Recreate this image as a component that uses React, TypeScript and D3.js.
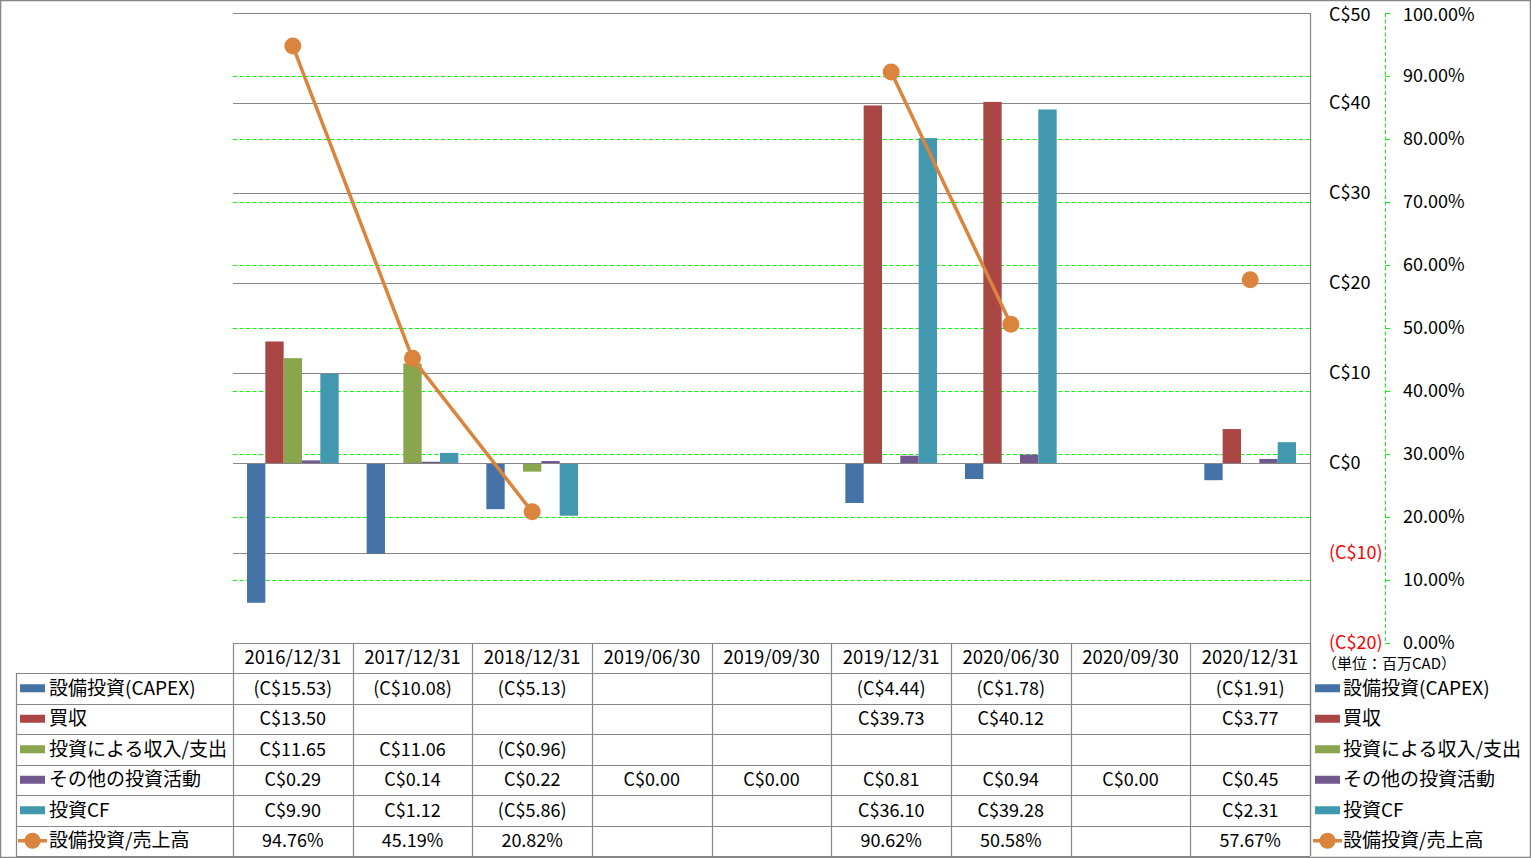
import React from 'react';
import * as d3 from 'd3';

const categories = ['2016/12/31', '2017/12/31', '2018/12/31', '2019/06/30', '2019/09/30', '2019/12/31', '2020/06/30', '2020/09/30', '2020/12/31'];
const capex: (number | null)[] = [-15.53, -10.08, -5.13, null, null, -4.44, -1.78, null, -1.91];
const acquisitions: (number | null)[] = [13.5, null, null, null, null, 39.73, 40.12, null, 3.77];
const investIncome: (number | null)[] = [11.65, 11.06, -0.96, null, null, null, null, null, null];
const otherInvest: (number | null)[] = [0.29, 0.14, 0.22, 0, 0, 0.81, 0.94, 0, 0.45];
const investCF: (number | null)[] = [9.9, 1.12, -5.86, null, null, 36.1, 39.28, null, 2.31];
const capexRatio: (number | null)[] = [94.76, 45.19, 20.82, null, null, 90.62, 50.58, null, 57.67];

const barSeriesNames = ['設備投資(CAPEX)', '買収', '投資による収入/支出', 'その他の投資活動', '投資CF'];
const lineSeriesName = '設備投資/売上高';
const barColors = ['#4572A7', '#AA4643', '#89A54E', '#71588F', '#4198AF'];
const lineColor = '#DB843D';
const leftTicks = [50, 40, 30, 20, 10, 0, -10, -20];
const rightTicks = [100, 90, 80, 70, 60, 50, 40, 30, 20, 10, 0];
const unitLabel = '（単位：百万CAD）';

const barSeries = [capex, acquisitions, investIncome, otherInvest, investCF];

const W = 1531;
const H = 858;
const plotL = 233;
const plotR = 1310;
const plotT = 13;
const plotB = 643;
const tableL = 16;
const headerB = 673;
const tableB = 856;
const FONT = '"Noto Sans CJK JP", "Noto Sans", sans-serif';
const GRID = '#868686';

const fmtC = (v: number | null) => (v == null ? '' : v < 0 ? `(C$${Math.abs(v).toFixed(2)})` : `C$${v.toFixed(2)}`);
const fmtP = (v: number | null) => (v == null ? '' : `${v.toFixed(2)}%`);
const fmtAxis = (v: number) => (v < 0 ? `(C$${Math.abs(v)})` : `C$${v}`);

export default function App() {
  const x0 = d3.scaleBand<string>().domain(categories).range([plotL, plotR]).paddingInner(0).paddingOuter(0);
  const bw = x0.bandwidth();
  const gap = bw * 0.234;
  const x1 = d3.scaleBand<number>().domain(barSeries.map((_, i) => i)).range([gap / 2, bw - gap / 2]).padding(0);
  const yL = d3.scaleLinear().domain([-20, 50]).range([plotB, plotT]);
  const yR = d3.scaleLinear().domain([0, 100]).range([plotB, plotT]);

  const rowH = (tableB - headerB) / 6;
  const rowY = (i: number) => headerB + i * rowH;

  const line = d3
    .line<number | null>()
    .defined((d) => d != null)
    .x((_, i) => (x0(categories[i]) as number) + bw / 2)
    .y((d) => yR(d as number));

  const rowsData: { name: string; values: string[]; color: string; isLine: boolean }[] = [
    ...barSeries.map((s, i) => ({ name: barSeriesNames[i], values: s.map(fmtC), color: barColors[i], isLine: false })),
    { name: lineSeriesName, values: capexRatio.map(fmtP), color: lineColor, isLine: true },
  ];

  const legendKey = (x: number, cy: number, color: string, isLine: boolean) =>
    isLine ? (
      <g>
        <line x1={x - 2} x2={x + 27} y1={cy} y2={cy} stroke={color} strokeWidth={3.5} />
        <circle cx={x + 12.5} cy={cy} r={8} fill={color} />
      </g>
    ) : (
      <rect x={x} y={cy - 4} width={25} height={8} fill={color} />
    );

  // keep the topmost axis labels fully inside the picture
  const labelY = (y: number) => Math.max(y, 15);

  return (
    <div style={{ position: 'fixed', left: 0, top: 0 }}>
      <svg width={W} height={H} style={{ display: 'block', fontFamily: FONT }}>
        <rect x={0} y={0} width={W} height={H} fill="#fff" />
        <rect x={0.5} y={0.5} width={W - 1} height={H - 1} fill="none" stroke={GRID} strokeWidth={1.5} />

        {/* green dashed secondary gridlines */}
        {rightTicks
          .filter((t) => t > 0 && t < 100)
          .map((t) => (
            <line key={'g' + t} x1={plotL} x2={plotR} y1={Math.round(yR(t)) + 0.5} y2={Math.round(yR(t)) + 0.5} stroke="#00FF00" strokeWidth={1} strokeDasharray="4,2.5" />
          ))}
        {/* solid primary gridlines */}
        {leftTicks.map((t) => (
          <line key={'s' + t} x1={plotL} x2={plotR} y1={Math.round(yL(t)) + 0.5} y2={Math.round(yL(t)) + 0.5} stroke={GRID} strokeWidth={1.2} />
        ))}

        {/* bars */}
        {barSeries.map((s, si) =>
          s.map((v, ci) => {
            if (v == null || v === 0) return null;
            const xx = (x0(categories[ci]) as number) + (x1(si) as number);
            const y0 = yL(0);
            const yv = yL(v);
            return <rect key={`b${si}-${ci}`} x={xx} y={Math.min(y0, yv)} width={x1.bandwidth()} height={Math.abs(yv - y0)} fill={barColors[si]} />;
          })
        )}
        {/* zero line on top */}
        <line x1={plotL} x2={plotR} y1={Math.round(yL(0)) + 0.5} y2={Math.round(yL(0)) + 0.5} stroke={GRID} strokeWidth={1.2} />

        {/* line series */}
        <path d={line(capexRatio) || ''} fill="none" stroke={lineColor} strokeWidth={3.5} />
        {capexRatio.map((v, i) =>
          v == null ? null : <circle key={'c' + i} cx={(x0(categories[i]) as number) + bw / 2} cy={yR(v)} r={8.5} fill={lineColor} />
        )}

        {/* right border of plot */}
        <line x1={plotR + 0.5} x2={plotR + 0.5} y1={plotT} y2={tableB} stroke={GRID} strokeWidth={1.2} />

        {/* left axis labels (placed at right) */}
        {leftTicks.map((t) => (
          <text key={'lt' + t} x={1329} y={labelY(yL(t))} dy="0.35em" fontSize={18} fill={t < 0 ? '#FF0000' : '#000'}>
            {fmtAxis(t)}
          </text>
        ))}

        {/* right axis */}
        <line x1={1385.5} x2={1385.5} y1={plotT} y2={plotB} stroke="#00FF00" strokeWidth={1} strokeDasharray="4,2.5" />
        {rightTicks.map((t) => (
          <g key={'rt' + t}>
            <line x1={1385} x2={1390} y1={Math.round(yR(t)) + 0.5} y2={Math.round(yR(t)) + 0.5} stroke="#00FF00" strokeWidth={1} />
            <text x={1403} y={labelY(yR(t))} dy="0.35em" fontSize={18} fill="#000">
              {`${t.toFixed(2)}%`}
            </text>
          </g>
        ))}
        <text x={1322} y={664} dy="0.35em" fontSize={15} fill="#000">
          {unitLabel}
        </text>

        {/* data table */}
        <g stroke={GRID} strokeWidth={1.2}>
          <line x1={plotL} x2={plotR} y1={plotB + 0.5} y2={plotB + 0.5} />
          {d3.range(7).map((i) => (
            <line key={'h' + i} x1={tableL} x2={plotR} y1={Math.round(rowY(i)) + 0.5} y2={Math.round(rowY(i)) + 0.5} />
          ))}
          <line x1={tableL + 0.5} x2={tableL + 0.5} y1={headerB} y2={tableB} />
          {d3.range(categories.length + 1).map((i) => {
            const xx = Math.round(plotL + i * bw) + 0.5;
            return <line key={'v' + i} x1={xx} x2={xx} y1={plotB} y2={tableB} />;
          })}
        </g>
        {categories.map((c) => (
          <text key={'hd' + c} x={(x0(c) as number) + bw / 2} y={(plotB + headerB) / 2} dy="0.35em" textAnchor="middle" fontSize={18.5} fill="#000">
            {c}
          </text>
        ))}
        {rowsData.map((r, ri) => {
          const cy = rowY(ri) + rowH / 2;
          return (
            <g key={'r' + ri}>
              {legendKey(20, cy, r.color, r.isLine)}
              <text x={49} y={cy} dy="0.35em" fontSize={19} fill="#000">
                {r.name}
              </text>
              {r.values.map((v, ci) => (
                <text key={'cell' + ci} x={(x0(categories[ci]) as number) + bw / 2} y={cy} dy="0.35em" textAnchor="middle" fontSize={18} fill="#000">
                  {v}
                </text>
              ))}
              {legendKey(1315, cy, r.color, r.isLine)}
              <text x={1343} y={cy} dy="0.35em" fontSize={19} fill="#000">
                {r.name}
              </text>
            </g>
          );
        })}
      </svg>
    </div>
  );
}
